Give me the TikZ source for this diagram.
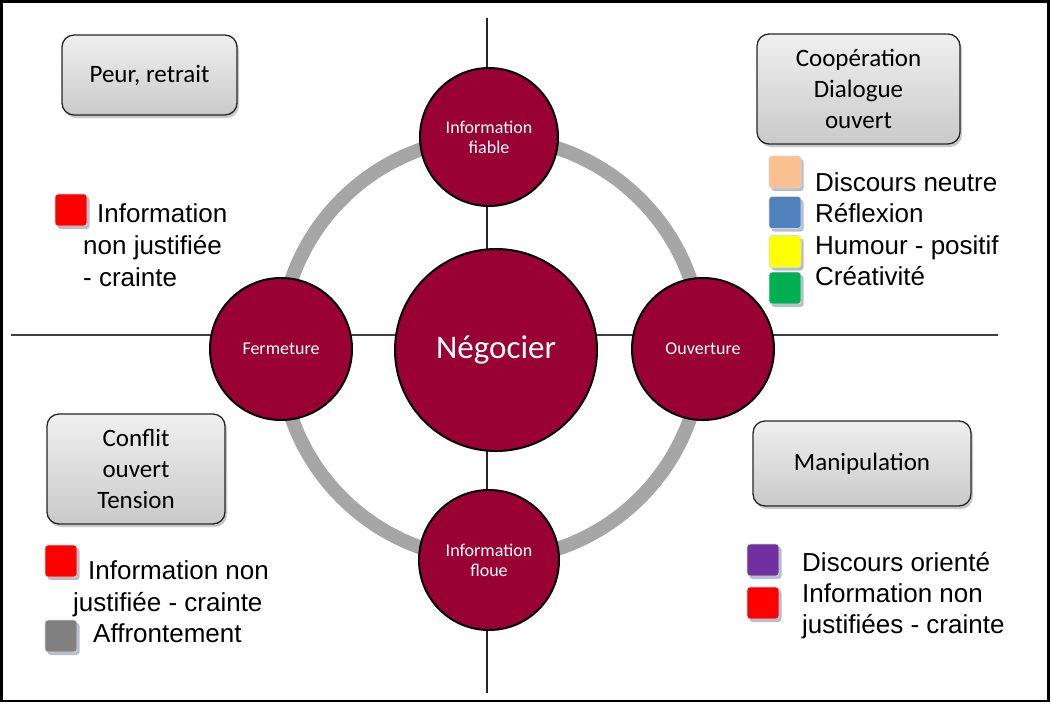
\documentclass[tikz,border=0pt]{standalone}
\usepackage{fontspec}
\setmainfont{Liberation Sans}
\newfontfamily\calibri{Carlito}
\usetikzlibrary{shadows}
\definecolor{crimson}{HTML}{990033}
\definecolor{ringgray}{HTML}{A6A6A6}
\definecolor{sqshadow}{HTML}{B4BFCE}
\definecolor{cpeach}{HTML}{FAC090}
\definecolor{cblue}{HTML}{4F81BD}
\definecolor{cyellow}{HTML}{FFFF00}
\definecolor{cgreen}{HTML}{00B050}
\definecolor{cred}{HTML}{FF0000}
\definecolor{cgray}{HTML}{808080}
\definecolor{cpurple}{HTML}{7030A0}
\begin{document}
\begin{tikzpicture}[x=1pt,y=-1pt,
  ringline/.style={draw=ringgray, line width=14},
  axisline/.style={draw=black!75, line width=2},
  vaxisline/.style={draw=black!85, line width=1.5},
  bubble/.style={circle, fill=crimson, draw=black, line width=2, inner sep=0, text=white, align=center,
     font=\calibri\fontsize{18}{20}\selectfont},
  mainbubble/.style={bubble, font=\calibri\fontsize{33}{36}\selectfont},
  statebox/.style={draw=black!85, line width=1.3, rounded corners=12, top color=gray!12, bottom color=gray!42,
     drop shadow={shadow xshift=2pt, shadow yshift=-3pt, opacity=0.3, fill=black!70},
     align=center, inner sep=0, font=\calibri\fontsize{25}{31}\selectfont},
  legsq/.style={minimum size=32, inner sep=0, rounded corners=3, draw=white!85!black, line width=0.8,
     drop shadow={shadow xshift=2.5pt, shadow yshift=-3pt, opacity=1, fill=sqshadow}},
  legtext/.style={anchor=base west, inner sep=0, font=\fontsize{26}{31}\selectfont}
]
\useasboundingbox (0,0) rectangle (1051,704);
\draw[line width=2.5] (1.5,1.5) rectangle (1048.5,701);

% axes
\coordinate (hl) at (11,335);
\coordinate (hr) at (998,335);
\coordinate (vt) at (487,18);
\coordinate (vb) at (487,693);
\draw[axisline] (hl) -- (hr);
\draw[vaxisline] (vt) -- (vb);

% ring
\draw[ringline] (491,348.5) circle[radius=211];

% circles
\node[mainbubble, minimum size=202] (neg) at (496,350) {Négocier};
\node[bubble, minimum size=138] (fiable) at (489,137) {Information\\fiable};
\node[bubble, minimum size=140] (floue) at (489,560) {Information\\floue};
\node[bubble, minimum size=142] (ferm) at (281,349) {Fermeture};
\node[bubble, minimum size=142] (ouv) at (703,349) {Ouverture};

% state boxes
\node[statebox, minimum width=175, minimum height=80] (peur) at (149.5,75) {Peur, retrait};
\node[statebox, minimum width=203, minimum height=110] (coop) at (858.5,89) {Coopération\\Dialogue\\ouvert};
\node[statebox, minimum width=178, minimum height=110] (conf) at (136,469) {Conflit\\ouvert\\Tension};
\node[statebox, minimum width=218, minimum height=85] (manip) at (862,463.5) {Manipulation};

% legend top-left
\node[legsq, fill=cred] (tlred) at (71,210) {};
\node[legtext] (tl1) at (97,222) {Information};
\node[legtext] (tl2) at (83,254) {non justifiée};
\node[legtext] (tl3) at (83,286) {- crainte};

% legend top-right
\node[legsq, fill=cpeach] (trpeach) at (785,172) {};
\node[legsq, fill=cblue] (trblue) at (785,212.5) {};
\node[legsq, fill=cyellow] (tryellow) at (785,251.5) {};
\node[legsq, fill=cgreen] (trgreen) at (785,288) {};
\node[legtext] (tr1) at (815,191) {Discours neutre};
\node[legtext] (tr2) at (815,222) {Réflexion};
\node[legtext] (tr3) at (815,254) {Humour - positif};
\node[legtext] (tr4) at (815,285) {Créativité};

% legend bottom-left
\node[legsq, fill=cred] (blred) at (61,561) {};
\node[legsq, fill=cgray] (blgray) at (61,636) {};
\node[legtext] (bl1) at (88,579) {Information non};
\node[legtext] (bl2) at (73,611) {justifiée - crainte};
\node[legtext] (bl3) at (93,642) {Affrontement};

% legend bottom-right
\node[legsq, fill=cpurple] (brpurple) at (763,560) {};
\node[legsq, fill=cred] (brred) at (763,603) {};
\node[legtext] (br1) at (802,571) {Discours orienté};
\node[legtext] (br2) at (802,602) {Information non};
\node[legtext] (br3) at (802,633) {justifiées - crainte};
\end{tikzpicture}
\end{document}
